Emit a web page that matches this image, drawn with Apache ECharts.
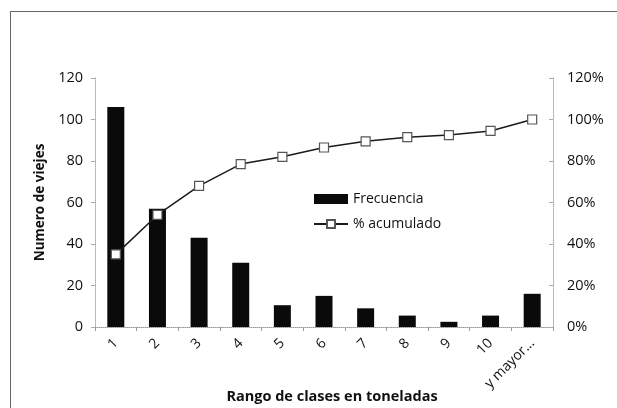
<!DOCTYPE html>
<html>
<head>
<meta charset="utf-8">
<script src="https://cdn.jsdelivr.net/npm/echarts@6/dist/echarts.min.js"></script>
<style>
  html, body { margin: 0; padding: 0; background: #fff; overflow: hidden; }
  #main { width: 617px; height: 408px; }
  .frame { position: absolute; left: 10px; top: 11px; width: 640px; height: 420px; border: 1.5px solid #666; border-bottom: none; border-right: none; box-sizing: border-box; pointer-events: none; }
</style>
</head>
<body>
<div id="main"></div>
<div class="frame"></div>
<script>
const categories = ['1', '2', '3', '4', '5', '6', '7', '8', '9', '10', 'y mayor...']
const frecuencia = [106, 57, 43, 31, 10.5, 15, 9, 5.5, 2.5, 5.5, 16]
const acumulado = [35, 54, 68, 78.5, 82, 86.5, 89.5, 91.5, 92.5, 94.5, 100]

const font = 'Open Sans, Liberation Sans, sans-serif'

const chart = echarts.init(document.getElementById('main'))

const option = {
  animation: false,
  textStyle: { fontFamily: font, color: '#111' },
  grid: { left: 95, right: 64, top: 78, bottom: 81, containLabel: false, outerBoundsMode: 'none' },
  legend: {
    orient: 'vertical',
    left: 308,
    top: 187,
    itemGap: 11,
    itemWidth: 34,
    itemHeight: 10,
    textStyle: { fontSize: 14, fontFamily: font, color: '#111' },
    data: [
      { name: 'Frecuencia', icon: 'rect' },
      { name: '% acumulado' }
    ]
  },
  xAxis: {
    type: 'category',
    data: categories,
    name: 'Rango de clases en toneladas',
    nameLocation: 'middle',
    nameGap: 62,
    nameMoveOverlap: false,
    nameTextStyle: { fontSize: 14.5, fontWeight: 'bold', color: '#111', padding: [0, 0, 0, 16] },
    axisLine: { lineStyle: { color: '#999', type: 'dotted' } },
    axisTick: { show: true, lineStyle: { color: '#999' }, length: 4 },
    axisLabel: { rotate: 45, fontSize: 14, color: '#111', margin: 14, interval: 0 }
  },
  yAxis: [
    {
      type: 'value',
      min: 0,
      max: 120,
      interval: 20,
      name: 'Numero de viejes',
      nameLocation: 'middle',
      nameGap: 48,
      nameMoveOverlap: false,
      nameTextStyle: { fontSize: 13.5, fontWeight: 'bold', color: '#111' },
      axisLine: { show: true, lineStyle: { color: '#aaa', type: 'dotted' } },
      axisTick: { show: true, lineStyle: { color: '#aaa' }, length: 4 },
      axisLabel: { fontSize: 14.5, color: '#111', margin: 12 },
      splitLine: { show: false }
    },
    {
      type: 'value',
      min: 0,
      max: 120,
      interval: 20,
      position: 'right',
      axisLine: { show: true, lineStyle: { color: '#aaa', type: 'dotted' } },
      axisTick: { show: true, inside: true, lineStyle: { color: '#aaa' }, length: 4 },
      axisLabel: { fontSize: 14.5, color: '#111', margin: 14, formatter: '{value}%' },
      splitLine: { show: false }
    }
  ],
  series: [
    {
      name: 'Frecuencia',
      type: 'bar',
      data: frecuencia,
      barWidth: 17,
      itemStyle: { color: '#0a0a0a' }
    },
    {
      name: '% acumulado',
      type: 'line',
      yAxisIndex: 1,
      data: acumulado,
      symbol: 'rect',
      symbolSize: 9,
      lineStyle: { color: '#1a1a1a', width: 1.5 },
      itemStyle: { color: '#fff', borderColor: '#555', borderWidth: 1.2 }
    }
  ]
}

chart.setOption(option)
</script>
</body>
</html>
